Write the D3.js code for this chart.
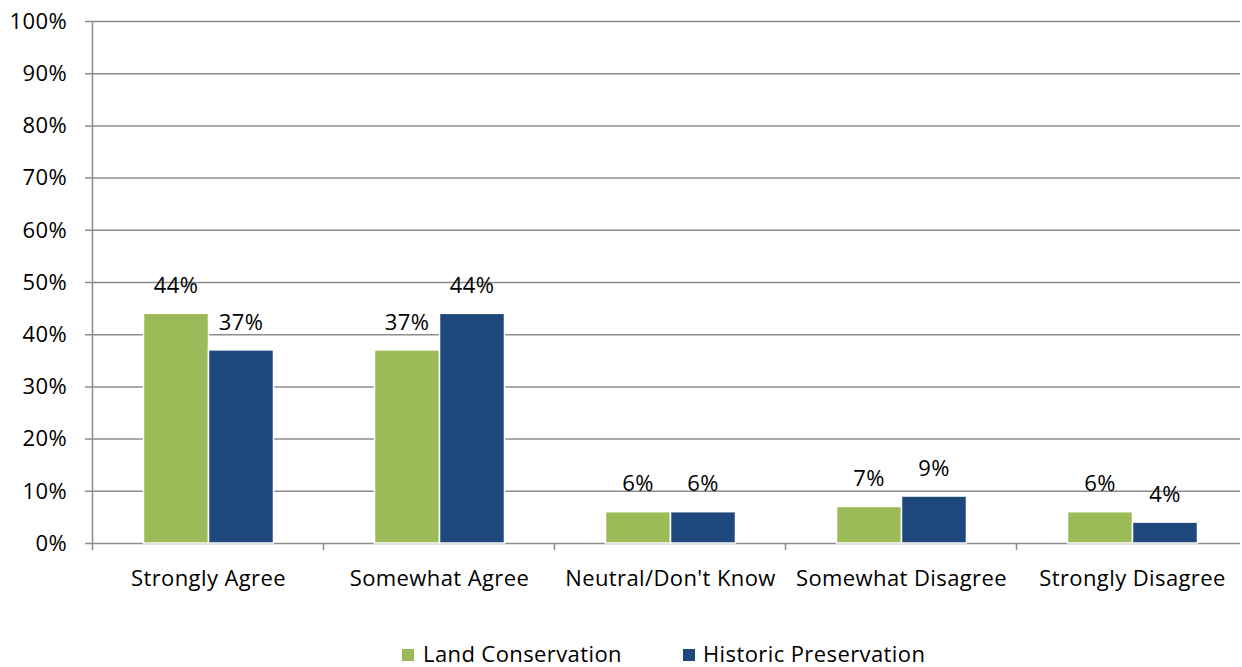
<!DOCTYPE html>
<html><head><meta charset="utf-8">
<script src="https://cdn.jsdelivr.net/npm/d3@7"></script>
<style>body{margin:0;background:#fff}svg{display:block;font-family:"Open Sans",Lato,sans-serif}</style>
</head><body><svg id="c" width="1242" height="667"></svg>
<script>
const categories = ["Strongly Agree","Somewhat Agree","Neutral/Don't Know","Somewhat Disagree","Strongly Disagree"];
const seriesNames = ["Land Conservation","Historic Preservation"];
const landConservation = [44,37,6,7,6];
const historicPreservation = [37,44,6,9,4];
const yTicks = [0,10,20,30,40,50,60,70,80,90,100];
const colors = ["#9bbb59","#1f497d"];

const svg = d3.select("#c");
const m = {l:93, r:1248, t:21, b:543};
const x = d3.scaleBand().domain(categories).range([m.l, m.r]);
const y = d3.scaleLinear().domain([0,100]).range([m.b, m.t]);
const fs = 22, ls = 0.4;

// gridlines
svg.append("g").selectAll("line").data(yTicks).join("line")
  .attr("x1", m.l-8).attr("x2", 1240)
  .attr("y1", d=>y(d)+0.5).attr("y2", d=>y(d)+0.5)
  .attr("stroke","#8c8c8c").attr("stroke-width",1.5);
// y axis line
svg.append("line").attr("x1",m.l-0.5).attr("x2",m.l-0.5).attr("y1",m.t).attr("y2",m.b+7)
  .attr("stroke","#8c8c8c").attr("stroke-width",1.5);
// category ticks
svg.append("g").selectAll("line").data(categories.slice(1)).join("line")
  .attr("x1", d=>x(d)-0.5).attr("x2", d=>x(d)-0.5).attr("y1", m.b).attr("y2", m.b+7)
  .attr("stroke","#8c8c8c").attr("stroke-width",1.5);
// y labels
svg.append("g").selectAll("text").data(yTicks).join("text")
  .attr("x", 67).attr("y", d=>y(d)).attr("dy","0.35em").attr("text-anchor","end")
  .attr("font-size",fs).attr("letter-spacing",ls).attr("fill","#000").text(d=>d+"%");
// x labels
svg.append("g").selectAll("text").data(categories).join("text")
  .attr("x", d=>x(d)+x.bandwidth()/2).attr("y", 578).attr("dy","0.35em").attr("text-anchor","middle")
  .attr("font-size",fs).attr("letter-spacing",ls).attr("fill","#000").text(d=>d);

const series = [landConservation, historicPreservation];
const bw = 65;
series.forEach((vals,si)=>{
  const g = svg.append("g");
  const bx = (i)=> x(categories[i]) + x.bandwidth()/2 - bw + si*bw;
  g.selectAll("rect").data(vals).join("rect")
    .attr("x",(d,i)=>bx(i)).attr("width",bw)
    .attr("y",d=>y(d)).attr("height",d=>y(0)-y(d))
    .attr("fill",colors[si]).attr("stroke","#fff").attr("stroke-width",1.5);
  g.selectAll("text").data(vals).join("text")
    .attr("x",(d,i)=>bx(i)+bw/2).attr("y",d=>y(d)-28).attr("dy","0.35em")
    .attr("text-anchor","middle").attr("font-size",fs).attr("letter-spacing",ls).attr("fill","#000").text(d=>d+"%");
});

// legend
const leg = [{x:402, tx:423},{x:683, tx:703}];
seriesNames.forEach((n,i)=>{
  svg.append("rect").attr("x",leg[i].x).attr("y",649).attr("width",12).attr("height",12).attr("fill",colors[i]);
  svg.append("text").attr("x",leg[i].tx).attr("y",654).attr("dy","0.35em").attr("font-size",fs).attr("letter-spacing",ls).attr("fill","#000").text(n);
});
</script></body></html>
